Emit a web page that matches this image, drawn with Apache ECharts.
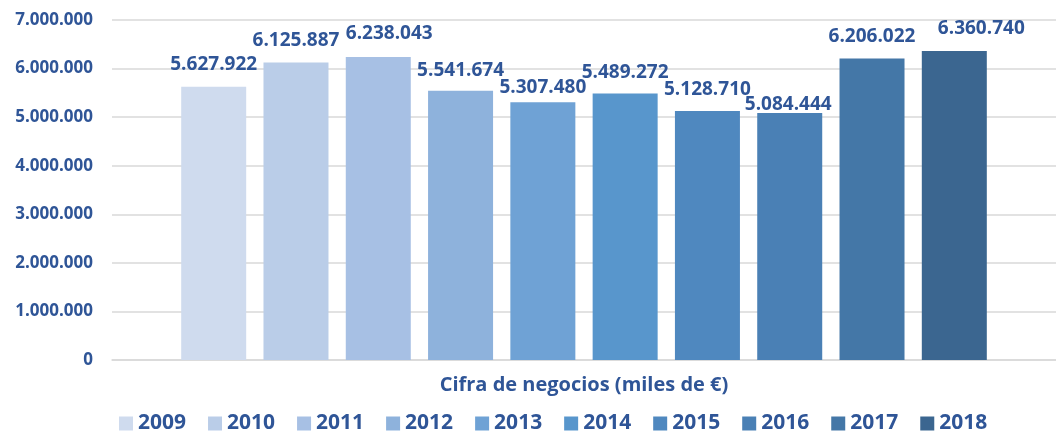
<!DOCTYPE html>
<html><head><meta charset="utf-8">
<script src="https://cdn.jsdelivr.net/npm/echarts@6/dist/echarts.min.js"></script>
<style>html,body{margin:0;padding:0;background:#fff}#c{width:1056px;height:432px}</style>
</head><body><div id="c"></div>
<script>
const categories = ['Cifra de negocios (miles de €)'];
const years = ['2009','2010','2011','2012','2013','2014','2015','2016','2017','2018'];
const values = [5627922, 6125887, 6238043, 5541674, 5307480, 5489272, 5128710, 5084444, 6206022, 6360740];
const yTicks = [0, 1000000, 2000000, 3000000, 4000000, 5000000, 6000000, 7000000];
const colors = ['#CFDBEE','#BACDE8','#A7C0E4','#8EB2DC','#6FA2D5','#5896CC','#4F88BF','#4A80B5','#4477A7','#3B6690'];
// label placement tweaks (style only)
const labelDist = [12.7,12.5,14.3,10.8,5.2,11.4,11.9,-1,12.6,13.4];
const labelDx = [0,0,11,0,0,0,0,-1.5,0,27];
const txt = '#2F5597';
const font = 'Open Sans';
function fmt(v){return String(v).replace(/\B(?=(\d{3})+(?!\d))/g,'.');}
const chart = echarts.init(document.getElementById('c'), null, {renderer:'canvas'});
chart.setOption({
  animation:false,
  color: colors,
  textStyle:{fontFamily:font},
  grid:{left:112, right:-5, top:20, bottom:72, containLabel:false},
  legend:{bottom:-7, left:114, itemWidth:14, itemHeight:14, itemGap:22, icon:'rect',
    textStyle:{color:txt, fontSize:21, fontWeight:'bold', fontFamily:font}, data: years},
  xAxis:{type:'category', data:categories, axisTick:{show:false},
    axisLine:{lineStyle:{color:'#D9D9D9', width:1.5}},
    axisLabel:{color:txt, fontSize:20, fontWeight:'bold', margin:15, fontFamily:font}},
  yAxis:{type:'value', min:0, max:yTicks[yTicks.length-1], interval:1000000,
    axisLine:{show:false}, axisTick:{show:false},
    splitLine:{lineStyle:{color:'#D9D9D9', width:1.5}},
    axisLabel:{color:txt, fontSize:17, fontWeight:'bold', margin:19, fontFamily:font, formatter:fmt}},
  series: years.map((y,i)=>({
    name:y, type:'bar', data:[values[i]], barWidth:65, barGap:'26.6%',
    itemStyle:{color:colors[i]},
    label:{show:true, position:'top', distance:labelDist[i], offset:[labelDx[i],0], color:txt, fontSize:19, fontWeight:'bold', fontFamily:font, formatter:p=>fmt(p.value)}
  }))
});
</script></body></html>
